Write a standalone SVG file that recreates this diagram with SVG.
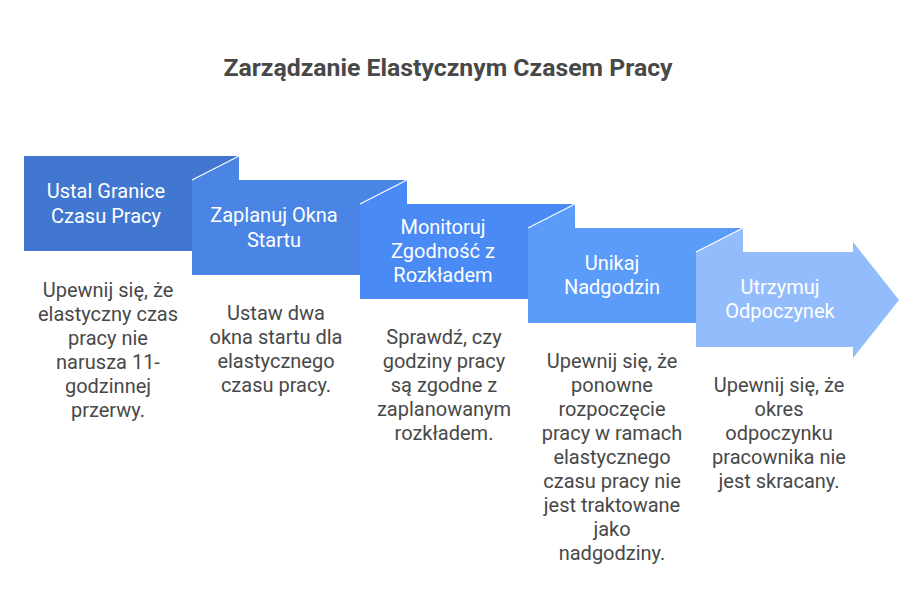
<svg xmlns="http://www.w3.org/2000/svg" width="924" height="612" viewBox="0 0 924 612">
<style>
.title{font-family:Roboto,"Liberation Sans",sans-serif;font-size:24.8px;font-weight:bold;fill:#484848;text-anchor:middle}
.lbl{font-family:Roboto,"Liberation Sans",sans-serif;font-size:20px;fill:#ffffff;text-anchor:middle}
.desc{font-family:Roboto,"Liberation Sans",sans-serif;font-size:20px;fill:#484848;text-anchor:middle}
.fold{stroke:#ffffff;stroke-width:1.2;fill:none}
</style>
<rect width="924" height="612" fill="#ffffff"/>
<text class="title" x="448" y="76">Zarządzanie Elastycznym Czasem Pracy</text>

<g id="step1">
<rect x="24" y="156" width="215" height="95" fill="#4177d0"/>
<text class="lbl" x="106" y="198">Ustal Granice</text>
<text class="lbl" x="106" y="223">Czasu Pracy</text>
<text class="desc" x="108" y="297">Upewnij się, że</text>
<text class="desc" x="108" y="321">elastyczny czas</text>
<text class="desc" x="108" y="345">pracy nie</text>
<text class="desc" x="108" y="369">narusza 11-</text>
<text class="desc" x="108" y="393">godzinnej</text>
<text class="desc" x="108" y="417">przerwy.</text>
</g>

<g id="step2">
<polygon points="192,180 239,156 239,180 407,180 407,275 192,275" fill="#4a84e4"/>
<line class="fold" x1="192" y1="180" x2="239" y2="156"/>
<text class="lbl" x="274" y="222">Zaplanuj Okna</text>
<text class="lbl" x="274" y="247">Startu</text>
<text class="desc" x="276" y="320">Ustaw dwa</text>
<text class="desc" x="276" y="344">okna startu dla</text>
<text class="desc" x="276" y="368">elastycznego</text>
<text class="desc" x="276" y="392">czasu pracy.</text>
</g>

<g id="step3">
<polygon points="360,204 407,180 407,204 575,204 575,299 360,299" fill="#4a8af4"/>
<line class="fold" x1="360" y1="204" x2="407" y2="180"/>
<text class="lbl" x="443" y="234">Monitoruj</text>
<text class="lbl" x="443" y="258">Zgodność z</text>
<text class="lbl" x="443" y="282">Rozkładem</text>
<text class="desc" x="444" y="344">Sprawdź, czy</text>
<text class="desc" x="444" y="368">godziny pracy</text>
<text class="desc" x="444" y="392">są zgodne z</text>
<text class="desc" x="444" y="416">zaplanowanym</text>
<text class="desc" x="444" y="440">rozkładem.</text>
</g>

<g id="step4">
<polygon points="528,228 575,204 575,228 743,228 743,323 528,323" fill="#5b9bfa"/>
<line class="fold" x1="528" y1="228" x2="575" y2="204"/>
<text class="lbl" x="612" y="270">Unikaj</text>
<text class="lbl" x="612" y="294">Nadgodzin</text>
<text class="desc" x="612" y="368">Upewnij się, że</text>
<text class="desc" x="612" y="392">ponowne</text>
<text class="desc" x="612" y="416">rozpoczęcie</text>
<text class="desc" x="612" y="440">pracy w ramach</text>
<text class="desc" x="612" y="464">elastycznego</text>
<text class="desc" x="612" y="488">czasu pracy nie</text>
<text class="desc" x="612" y="512">jest traktowane</text>
<text class="desc" x="612" y="536">jako</text>
<text class="desc" x="612" y="560">nadgodziny.</text>
</g>

<g id="step5">
<polygon points="696,252 743,228 743,252 853,252 853,242 899,300 853,358 853,347 696,347" fill="#93bcfd"/>
<line class="fold" x1="696" y1="252" x2="743" y2="228"/>
<text class="lbl" x="780" y="294">Utrzymuj</text>
<text class="lbl" x="780" y="318">Odpoczynek</text>
<text class="desc" x="779" y="392">Upewnij się, że</text>
<text class="desc" x="779" y="416">okres</text>
<text class="desc" x="779" y="440">odpoczynku</text>
<text class="desc" x="779" y="464">pracownika nie</text>
<text class="desc" x="779" y="488">jest skracany.</text>
</g>

<g id="connectors"></g>
</svg>
